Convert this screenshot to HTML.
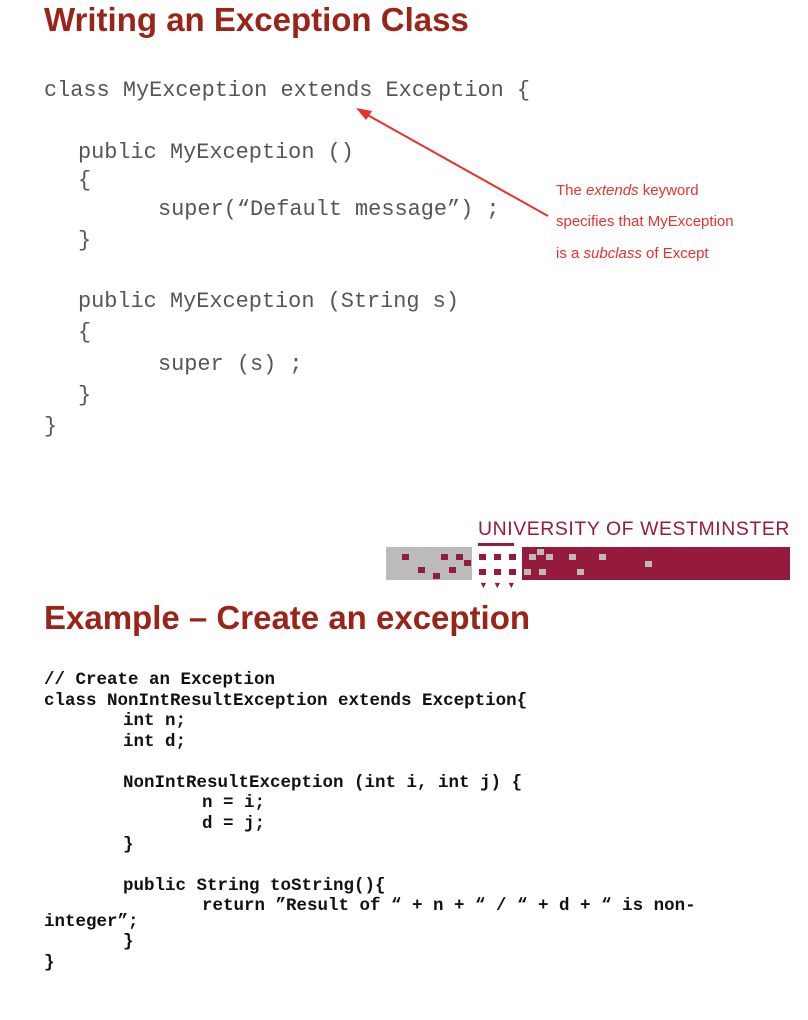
<!DOCTYPE html>
<html><head><meta charset="utf-8"><style>
body{margin:0;width:808px;height:1020px;background:#fff;position:relative;overflow:hidden;font-family:"Liberation Sans",sans-serif}
.t{position:absolute;left:44px;font-weight:bold;font-size:33px;color:#9a2418;white-space:nowrap;line-height:1}
.c{position:absolute;font-family:"Liberation Mono",monospace;font-size:21.9px;color:#555;white-space:pre;line-height:1}
.b{position:absolute;font-family:"Liberation Mono",monospace;font-weight:bold;font-size:17.5px;color:#111;white-space:pre;line-height:1}
.r{position:absolute;left:556px;font-size:15px;color:#e8322e;white-space:nowrap;line-height:1}
.s{position:absolute;background:#961a3c}
.g{position:absolute;background:#bbb}
</style></head><body>
<div class="t" style="top:3px">Writing an Exception Class</div>
<div class="c" style="left:44px;top:80px">class MyException extends Exception {</div>
<div class="c" style="left:78px;top:142px">public MyException ()</div>
<div class="c" style="left:78px;top:170px">{</div>
<div class="c" style="left:158px;top:199px">super(“Default message”) ;</div>
<div class="c" style="left:78px;top:230px">}</div>
<div class="c" style="left:78px;top:291px">public MyException (String s)</div>
<div class="c" style="left:78px;top:322px">{</div>
<div class="c" style="left:158px;top:354px">super (s) ;</div>
<div class="c" style="left:78px;top:385px">}</div>
<div class="c" style="left:44px;top:416px">}</div>
<svg style="position:absolute;left:0;top:0" width="808" height="300">
<line x1="548" y1="216" x2="364" y2="113" stroke="#e8322e" stroke-width="2"/>
<polygon points="356,108 372,111 366,120" fill="#e8322e"/>
</svg>
<div class="r" style="top:183px">The <i>extends</i> keyword</div>
<div class="r" style="top:214px">specifies that MyException</div>
<div class="r" style="top:246px">is a <i>subclass</i> of Except</div>

<div style="position:absolute;left:478px;top:518px;font-size:19.4px;color:#961a3c;letter-spacing:0.6px;white-space:nowrap">UNIVERSITY OF WESTMINSTER</div>
<div class="g" style="left:386px;top:547px;width:86px;height:33px"></div>
<div class="s" style="left:522px;top:547px;width:268px;height:33px"></div>
<div class="s" style="left:478px;top:543px;width:36px;height:3px"></div>
<div class="s" style="left:402px;top:554px;width:7px;height:6px"></div>
<div class="s" style="left:441px;top:554px;width:7px;height:6px"></div>
<div class="s" style="left:456px;top:554px;width:7px;height:6px"></div>
<div class="s" style="left:464px;top:560px;width:7px;height:6px"></div>
<div class="s" style="left:418px;top:567px;width:7px;height:6px"></div>
<div class="s" style="left:449px;top:567px;width:7px;height:6px"></div>
<div class="s" style="left:433px;top:573px;width:7px;height:6px"></div>
<div class="s" style="left:479px;top:554px;width:7px;height:6px"></div>
<div class="s" style="left:494px;top:554px;width:7px;height:6px"></div>
<div class="s" style="left:509px;top:554px;width:7px;height:6px"></div>
<div class="s" style="left:479px;top:569px;width:7px;height:6px"></div>
<div class="s" style="left:494px;top:569px;width:7px;height:6px"></div>
<div class="s" style="left:509px;top:569px;width:7px;height:6px"></div>
<div style="position:absolute;left:479px;top:580px;font-size:9px;color:#961a3c;letter-spacing:5px">▼▼▼</div>
<div class="g" style="left:537px;top:549px;width:7px;height:6px"></div>
<div class="g" style="left:529px;top:554px;width:7px;height:6px"></div>
<div class="g" style="left:546px;top:554px;width:7px;height:6px"></div>
<div class="g" style="left:569px;top:554px;width:7px;height:6px"></div>
<div class="g" style="left:599px;top:554px;width:7px;height:6px"></div>
<div class="g" style="left:645px;top:561px;width:7px;height:6px"></div>
<div class="g" style="left:524px;top:569px;width:7px;height:6px"></div>
<div class="g" style="left:539px;top:569px;width:7px;height:6px"></div>
<div class="g" style="left:577px;top:569px;width:7px;height:6px"></div>

<div class="t" style="top:601px">Example – Create an exception</div>
<div class="b" style="left:44px;top:672px">// Create an Exception</div>
<div class="b" style="left:44px;top:693px">class NonIntResultException extends Exception{</div>
<div class="b" style="left:123px;top:713px">int n;</div>
<div class="b" style="left:123px;top:734px">int d;</div>
<div class="b" style="left:123px;top:775px">NonIntResultException (int i, int j) {</div>
<div class="b" style="left:202px;top:795px">n = i;</div>
<div class="b" style="left:202px;top:816px">d = j;</div>
<div class="b" style="left:123px;top:837px">}</div>
<div class="b" style="left:123px;top:878px">public String toString(){</div>
<div class="b" style="left:202px;top:898px">return ”Result of “ + n + “ / “ + d + “ is non-</div>
<div class="b" style="left:44px;top:914px">integer”;</div>
<div class="b" style="left:123px;top:934px">}</div>
<div class="b" style="left:44px;top:955px">}</div>
</body></html>
